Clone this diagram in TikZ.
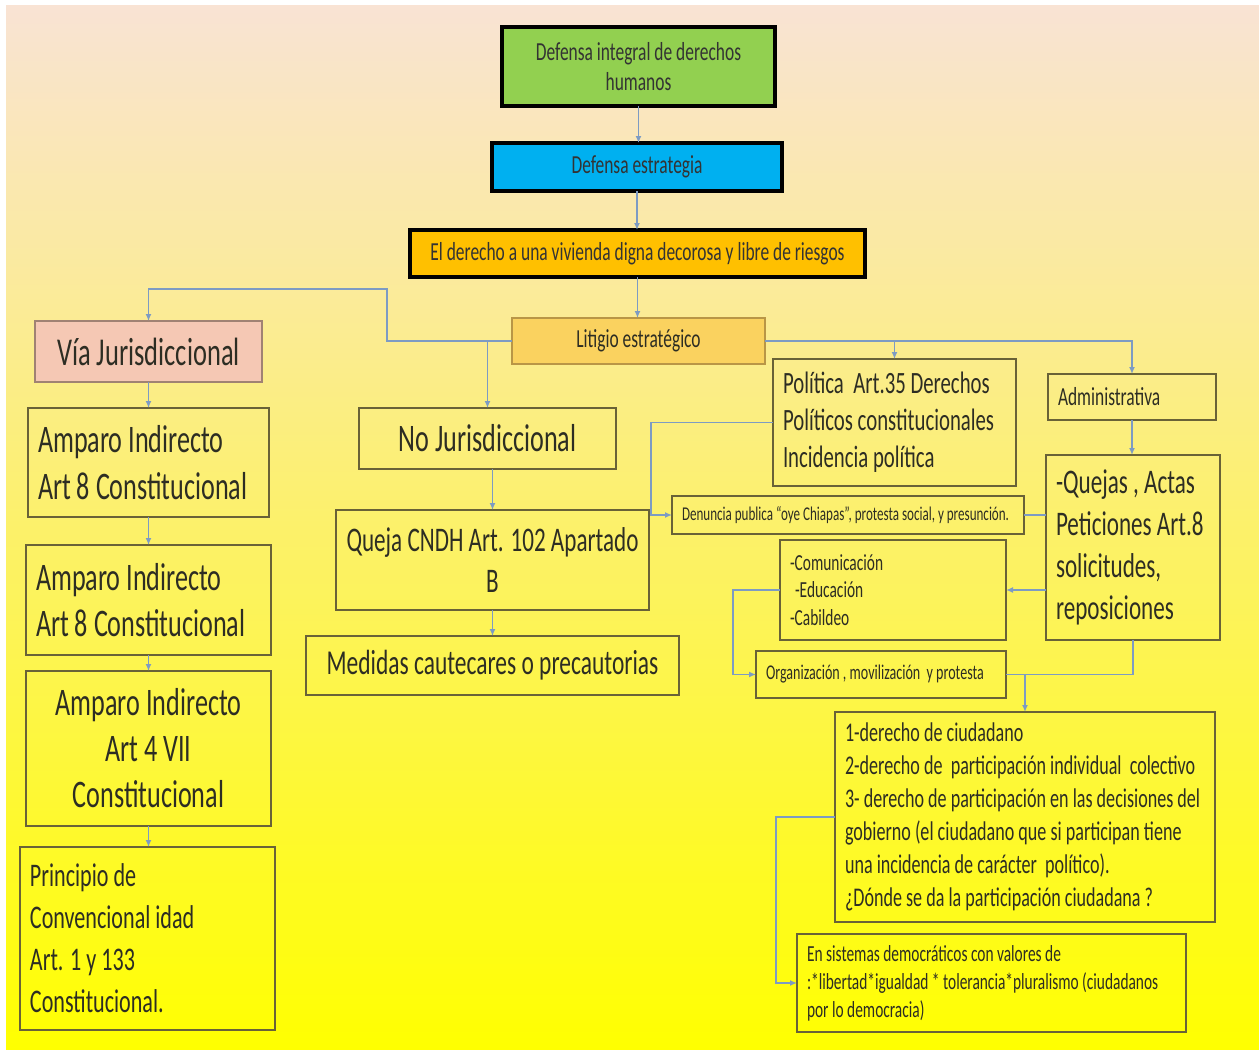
\documentclass[tikz,border=0pt]{standalone}
\usepackage{fontspec}
\setmainfont{Carlito}[FakeStretch=0.67]
\usetikzlibrary{arrows.meta}

\begin{document}
\begin{tikzpicture}[x=1pt, y=-1pt, >={Latex[length=7pt,width=6pt]},
	caja/.style={draw=borde, line width=2pt, text=texto, inner xsep=10pt, inner ysep=0pt, outer sep=0pt},
	cajafuerte/.style={draw=black, line width=3.5pt, text=black!80, align=center, inner sep=0pt, outer sep=0pt},
	conector/.style={draw=linea, line width=1.5pt},
	flecha/.style={conector, ->}]
	\definecolor{borde}{RGB}{105,98,55}
	\definecolor{texto}{RGB}{45,45,35}
	\definecolor{linea}{RGB}{125,155,195}
	\definecolor{verde}{RGB}{146,208,80}
	\definecolor{azul}{RGB}{0,176,240}
	\definecolor{naranja}{RGB}{255,192,0}
	\definecolor{litigio}{RGB}{250,210,95}
	\definecolor{rosa}{RGB}{245,200,180}
	\definecolor{durazno}{RGB}{249,227,212}
	\definecolor{crema}{RGB}{254,244,190}
	\definecolor{amarillo}{RGB}{255,255,0}
	
	% fondo
	\useasboundingbox (0,0) rectangle (1259,1050);
	\fill[white] (0,0) rectangle (1259,1050);
	\shade[top color=durazno, middle color=crema, bottom color=amarillo] (6,5) rectangle (1259,1050);
	
	% cadena superior
	\node[cajafuerte, fill=verde, minimum width=273pt, minimum height=79pt, font=\fontsize{26}{30}\selectfont] (defensa) at (638.5,66.5) {Defensa integral de derechos\\ humanos};
	\node[cajafuerte, fill=azul, minimum width=290pt, minimum height=48pt, font=\fontsize{26}{30}\selectfont] (estrategia) at (637,167) {Defensa estrategia};
	\node[cajafuerte, fill=naranja, minimum width=455pt, minimum height=47pt, font=\fontsize{26}{30}\selectfont] (vivienda) at (637.5,253.5) {El derecho a una vivienda digna decorosa y libre de riesgos};
	\node[caja, draw={rgb,255:red,185;green,150;blue,70}, fill=litigio, text width=233pt, align=flush center, minimum height=46pt, font=\fontsize{26}{30}\selectfont] (litigio) at (638.5,341) {Litigio estratégico};
	
	% vía jurisdiccional
	\node[caja, draw={rgb,255:red,160;green,130;blue,115}, fill=rosa, text width=207pt, align=flush center, minimum height=61pt, font=\fontsize{39.5}{47}\selectfont] (via) at (148.5,351.5) {Vía Jurisdiccional};
	\node[caja, text width=221pt, align=flush left, minimum height=109pt, font=\fontsize{39}{47}\selectfont] (amparoA) at (148.5,462.5) {Amparo Indirecto\\ Art 8 Constitucional};
	\node[caja, text width=225pt, align=flush left, minimum height=110pt, font=\fontsize{39}{46}\selectfont] (amparoB) at (148.5,600) {Amparo Indirecto\\ Art 8 Constitucional};
	\node[caja, text width=225pt, align=flush center, minimum height=155pt, font=\fontsize{39}{46}\selectfont] (amparoC) at (148.5,748.5) {Amparo Indirecto\\ Art 4 VII\\ Constitucional};
	\node[caja, text width=235pt, align=flush left, minimum height=183pt, font=\fontsize{33}{42}\selectfont] (principio) at (147.5,938.5) {Principio de\\ Convencional idad\\ Art. 1 y 133\\ Constitucional.};
	
	% no jurisdiccional
	\node[caja, text width=237pt, align=flush center, minimum height=61pt, font=\fontsize{39}{47}\selectfont] (nojur) at (487.5,438.5) {No Jurisdiccional};
	\node[caja, inner xsep=4pt, text width=305pt, align=flush center, minimum height=100pt, font=\fontsize{34.5}{41}\selectfont] (queja) at (492.5,560) {Queja CNDH Art. 102 Apartado\\ B};
	\node[caja, text width=353pt, align=flush center, minimum height=59pt, font=\fontsize{35}{41}\selectfont] (medidas) at (492.5,665.5) {Medidas cautecares o precautorias};
	
	% política y administrativa
	\node[caja, text width=223pt, align=flush left, minimum height=127pt, font=\fontsize{31}{37}\selectfont] (politica) at (894.5,422.5) {Política\ \ Art.35 Derechos\\ Políticos constitucionales\\ Incidencia política};
	\node[caja, text width=148pt, align=flush left, minimum height=46pt, font=\fontsize{26}{30}\selectfont] (admin) at (1132,397) {Administrativa};
	\node[caja, text width=332pt, align=flush left, minimum height=38pt, font=\fontsize{19.5}{23}\selectfont] (denuncia) at (848,515) {Denuncia publica “oye Chiapas”, protesta social, y presunción.};
	\node[caja, text width=154pt, align=flush left, minimum height=185pt, font=\fontsize{34.5}{42}\selectfont] (quejas) at (1133,547.5) {-Quejas , Actas\\ Peticiones Art.8\\ solicitudes,\\ reposiciones};
	\node[caja, text width=206pt, align=flush left, minimum height=100pt, font=\fontsize{23}{27.5}\selectfont] (comunicacion) at (893,590) {-Comunicación\\ \hspace*{5pt}-Educación\\ -Cabildeo};
	\node[caja, text width=230pt, align=flush left, minimum height=47pt, font=\fontsize{21}{25}\selectfont] (organizacion) at (881,674.5) {Organización , movilización\ \ y protesta};
	\node[caja, text width=360pt, align=flush left, minimum height=210pt, font=\fontsize{27}{33}\selectfont] (derechos) at (1025,817) {1-derecho de ciudadano\\ 2-derecho de\ \ participación individual\ \ colectivo\\ 3- derecho de participación en las decisiones del\\ gobierno (el ciudadano que si participan tiene\\ una incidencia de carácter\ \ político).\\ ¿Dónde se da la participación ciudadana ?};
	\node[caja, text width=369pt, align=flush left, minimum height=98pt, font=\fontsize{23}{28}\selectfont] (sistemas) at (991.5,983) {En sistemas democráticos con valores de\\ :*libertad*igualdad * tolerancia*pluralismo (ciudadanos\\ por lo democracia)};
	
	% conectores centrales
	\draw[flecha] (defensa.south) -- (defensa.south |- estrategia.north);
	\draw[flecha] (estrategia.south) -- (estrategia.south |- vivienda.north);
	\draw[flecha] (vivienda.south) -- (vivienda.south |- litigio.north);
	
	% rama izquierda
	\coordinate (codo) at (387,289);
	\draw[flecha] (litigio.west) -| (codo) -| (via.north);
	\draw[flecha] (litigio.west -| nojur.north) -- (nojur.north);
	\draw[flecha] (via.south) -- (amparoA.north);
	\draw[flecha] (amparoA.south) -- (amparoB.north);
	\draw[flecha] (amparoB.south) -- (amparoC.north);
	\draw[flecha] (amparoC.south) -- (amparoC.south |- principio.north);
	\draw[flecha] (queja.north |- nojur.south) -- (queja.north);
	\draw[flecha] (queja.south) -- (medidas.north);
	
	% rama derecha
	\draw[flecha] (litigio.east) -| (admin.north);
	\draw[flecha] (litigio.east -| politica.north) -- (politica.north);
	\draw[flecha] (politica.west) -- ++(-122,0) |- (denuncia.west);
	\draw[conector] (denuncia.east) -- (denuncia.east -| quejas.west);
	\draw[flecha] (admin.south) -- (admin.south |- quejas.north);
	\draw[flecha] (quejas.west |- comunicacion.east) -- (comunicacion.east);
	\draw[flecha] (comunicacion.west) -- ++(-47,0) |- (organizacion.west);
	\draw[conector] (quejas.south) |- (organizacion.east);
	\draw[flecha] (organizacion.east -| derechos.north) -- (derechos.north);
	\draw[flecha] (derechos.west) -- ++(-59,0) |- (sistemas.west);
\end{tikzpicture}
\end{document}
